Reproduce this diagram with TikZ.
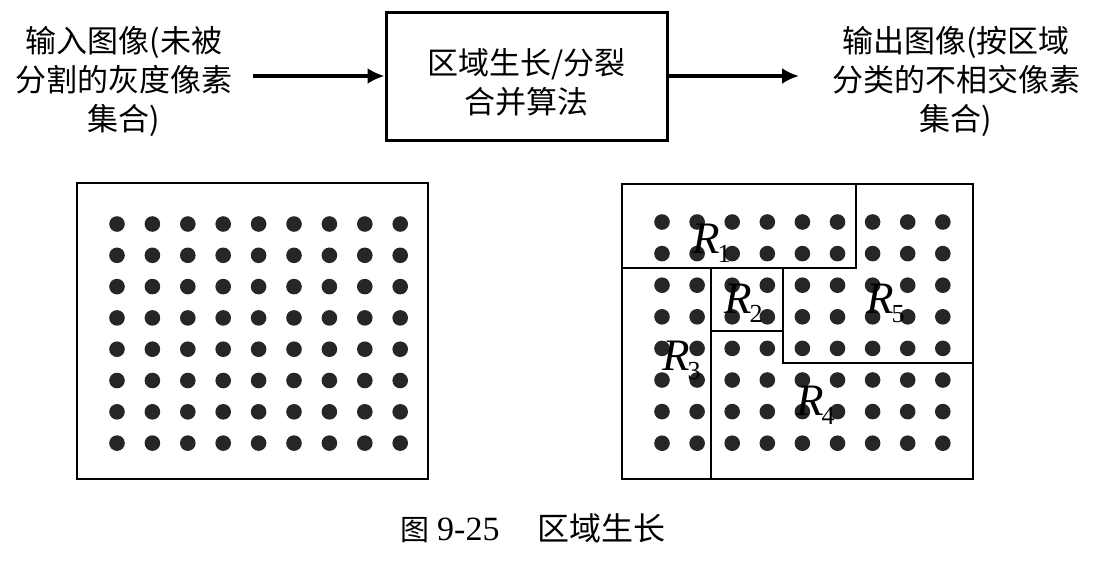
\documentclass[tikz,border=0pt]{standalone}
\usepackage{fontspec}
\setmainfont{Liberation Serif}
\newfontfamily\cjk{Noto Sans CJK SC}
\usetikzlibrary{arrows.meta}
\tikzset{
  cjktext/.style={font=\cjk\fontsize{31}{39}\selectfont, align=center, inner sep=0pt},
  algbox/.style={draw, line width=3pt, minimum width=281pt, minimum height=128pt, inner sep=0pt},
  flow/.style={line width=3.5pt, -{Latex[length=17pt,width=16pt]}},
  gridbox/.style={line width=2.6pt},
  regline/.style={line width=2.4pt},
  dot/.style={fill=black!85},
  rlabel/.style={font=\fontsize{45}{45}\selectfont\itshape, inner sep=0pt}
}
\begin{document}
\begin{tikzpicture}[x=1pt,y=-1pt]
\useasboundingbox (0,0) rectangle (1099,566);
% top flow
\node[cjktext] (in) at (124,81) {输入图像(未被\\分割的灰度像素\\集合)};
\node[algbox] (alg) at (526.5,76) {};
\node[cjktext] (algtxt) at (526.5,82) {区域生长/分裂\\合并算法};
\node[cjktext] (out) at (956,81) {输出图像(按区域\\分类的不相交像素\\集合)};
\coordinate (a1s) at (253,76);
\coordinate (a2e) at (799,76);
\draw[flow] (a1s) -- (alg.west);
\draw[flow] (alg.east) -- (a2e);
% left grid
\node[draw, gridbox, minimum width=351pt, minimum height=296pt, inner sep=0pt] (lgrid) at (252.5,331) {};
\foreach \i in {0,...,8} {
  \foreach \j in {0,...,7} {
    \fill[dot] ({117+35.4*\i},{224+31.3*\j}) circle (7.8pt);
  }
}
% right grid
\node[draw, gridbox, minimum width=351pt, minimum height=295pt, inner sep=0pt] (rgrid) at (797.5,331.5) {};
\foreach \i in {0,...,8} {
  \foreach \j in {0,...,7} {
    \fill[dot] ({662+35.1*\i},{222+31.6*\j}) circle (7.8pt);
  }
}
% region boundaries
\draw[regline] (622,268) -- (856,268) -- (856,184);
\draw[regline] (711,268) -- (711,479);
\draw[regline] (711,331) -- (783,331);
\draw[regline] (783,268) -- (783,363) -- (973,363);
% labels
\node[rlabel, anchor=base west] (r1) at (692,253) {R\kern-2pt\raisebox{-9pt}{\fontsize{26}{26}\selectfont\upshape 1}};
\node[rlabel, anchor=base west] (r2) at (724,313) {R\kern-2pt\raisebox{-9pt}{\fontsize{26}{26}\selectfont\upshape 2}};
\node[rlabel, anchor=base west] (r5) at (866,313) {R\kern-2pt\raisebox{-9pt}{\fontsize{26}{26}\selectfont\upshape 5}};
\node[rlabel, anchor=base west] (r3) at (662,370) {R\kern-2pt\raisebox{-9pt}{\fontsize{26}{26}\selectfont\upshape 3}};
\node[rlabel, anchor=base west] (r4) at (796,415) {R\kern-2pt\raisebox{-9pt}{\fontsize{26}{26}\selectfont\upshape 4}};
% caption
\node[inner sep=0pt, anchor=base west] (cap) at (400,540) {{\cjk\fontsize{29}{29}\selectfont 图}\hspace{8pt}{\fontsize{34}{34}\selectfont 9-25}\hspace{38pt}{\cjk\fontsize{32}{32}\selectfont 区域生长}};
\end{tikzpicture}
\end{document}
